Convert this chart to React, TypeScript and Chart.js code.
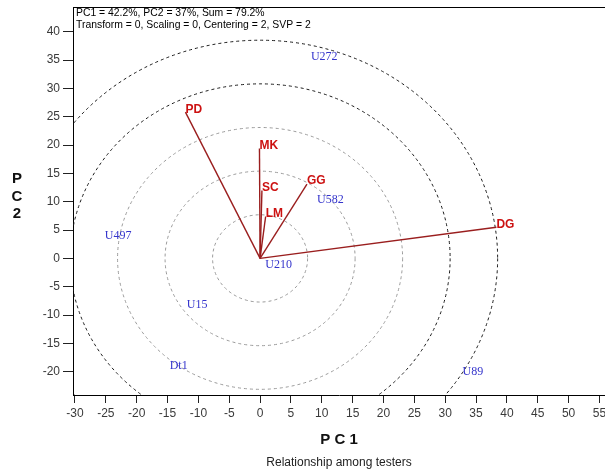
import React, { useEffect, useRef } from 'react';
import { Chart, registerables } from 'chart.js';

Chart.register(...registerables);

// Axis ticks and visible ranges (PC1 horizontal, PC2 vertical)
const xTicks = [-30, -25, -20, -15, -10, -5, 0, 5, 10, 15, 20, 25, 30, 35, 40, 45, 50, 55];
const yTicks = [-20, -15, -10, -5, 0, 5, 10, 15, 20, 25, 30, 35, 40];
const xMin = -30.32;
const xMax = 55.9;
const yMin = -24.1;
const yMax = 44.36;

// Environment vectors (testers drawn as arrows from the origin)
const envNames = ['PD', 'MK', 'SC', 'LM', 'GG', 'DG'];
const envPC1 = [-12.1, -0.1, 0.3, 0.9, 7.6, 38.3];
const envPC2 = [25.8, 19.4, 12.0, 7.4, 13.1, 5.5];

// Entry scores
const entryNames = ['U272', 'U582', 'U497', 'U210', 'U15', 'Dt1', 'U89'];
const entryPC1 = [10.4, 11.4, -23.0, 3.0, -10.2, -13.2, 34.5];
const entryPC2 = [35.6, 10.4, 3.9, -1.2, -8.2, -19.0, -20.1];

// Concentric reference rings around the origin
const ringRadii = [7.7, 15.4, 23.1, 30.8, 38.5];
const ringDark = [false, false, false, true, true];

const headerLines = [
  'PC1 = 42.2%, PC2 = 37%, Sum = 79.2%',
  'Transform = 0, Scaling = 0, Centering = 2, SVP = 2',
];
const xTitle = 'P C 1';
const yTitleLetters = ['P', 'C', '2'];
const footerTitle = 'Relationship among testers';

const SANS = '"Liberation Sans", Arial, sans-serif';
const SERIF = '"Liberation Serif", "Times New Roman", serif';
const VECTOR_COLOR = '#9a1e1e';
const ENV_LABEL_COLOR = '#cc1111';
const ENTRY_LABEL_COLOR = '#3434cc';

const biplotPlugin = {
  id: 'biplotDecor',
  beforeDatasetsDraw(chart: any) {
    const { ctx, chartArea, scales } = chart;
    const xs = scales.x;
    const ys = scales.y;
    const cx = xs.getPixelForValue(0);
    const cy = ys.getPixelForValue(0);
    ctx.save();
    ctx.beginPath();
    ctx.rect(chartArea.left, chartArea.top, chartArea.right - chartArea.left, chartArea.bottom - chartArea.top);
    ctx.clip();
    ringRadii.forEach((r, i) => {
      const rx = xs.getPixelForValue(r) - cx;
      const ry = cy - ys.getPixelForValue(r);
      ctx.beginPath();
      ctx.setLineDash([3, 3]);
      ctx.lineWidth = 1;
      ctx.strokeStyle = ringDark[i] ? '#1a1a1a' : '#9a9a9a';
      ctx.ellipse(cx, cy, rx, ry, 0, 0, Math.PI * 2);
      ctx.stroke();
    });
    ctx.restore();
  },
  afterDatasetsDraw(chart: any) {
    const { ctx, scales } = chart;
    const xs = scales.x;
    const ys = scales.y;
    ctx.save();
    // environment labels at the arrow tips
    ctx.font = `bold 12px ${SANS}`;
    ctx.fillStyle = ENV_LABEL_COLOR;
    ctx.textAlign = 'left';
    ctx.textBaseline = 'middle';
    envNames.forEach((name, i) => {
      const px = xs.getPixelForValue(envPC1[i]);
      const py = ys.getPixelForValue(envPC2[i]);
      ctx.fillText(name, px, py - 3);
    });
    // entry labels centred on their scores
    ctx.font = `12px ${SERIF}`;
    ctx.fillStyle = ENTRY_LABEL_COLOR;
    ctx.textAlign = 'center';
    entryNames.forEach((name, i) => {
      const px = xs.getPixelForValue(entryPC1[i]);
      const py = ys.getPixelForValue(entryPC2[i]);
      ctx.fillText(name, px, py);
    });
    ctx.restore();
  },
  afterDraw(chart: any) {
    const { ctx, chartArea } = chart;
    ctx.save();
    // top frame line above the plot
    ctx.strokeStyle = '#000';
    ctx.lineWidth = 1;
    ctx.beginPath();
    ctx.moveTo(chartArea.left, chartArea.top + 0.5);
    ctx.lineTo(chartArea.right, chartArea.top + 0.5);
    ctx.stroke();
    // header
    ctx.fillStyle = '#000';
    ctx.font = `10.4px ${SANS}`;
    ctx.textAlign = 'left';
    ctx.textBaseline = 'middle';
    headerLines.forEach((line, i) => {
      ctx.fillText(line, chartArea.left + 3, chartArea.top + 6.5 + i * 12);
    });
    // axis titles
    const midX = (chartArea.left + chartArea.right) / 2;
    ctx.font = `bold 15px ${SANS}`;
    ctx.fillStyle = '#111';
    ctx.textAlign = 'center';
    ctx.fillText(xTitle, midX, chartArea.bottom + 45);
    yTitleLetters.forEach((ch, i) => {
      ctx.fillText(ch, 17, 179 + i * 17.5);
    });
    ctx.font = `12px ${SANS}`;
    ctx.fillStyle = '#222';
    ctx.fillText(footerTitle, midX, chartArea.bottom + 68);
    ctx.restore();
  },
};

export default function App() {
  const canvasRef = useRef<HTMLCanvasElement>(null);

  useEffect(() => {
    const canvas = canvasRef.current;
    if (!canvas) return;

    const vectorSets = envNames.map((name, i) => ({
      label: name,
      data: [
        { x: 0, y: 0 },
        { x: envPC1[i], y: envPC2[i] },
      ],
      showLine: true,
      borderColor: VECTOR_COLOR,
      borderWidth: 1.4,
      pointRadius: 0,
      pointHoverRadius: 0,
    }));

    const entrySet = {
      label: 'entries',
      data: entryNames.map((_, i) => ({ x: entryPC1[i], y: entryPC2[i] })),
      showLine: false,
      pointRadius: 0,
      pointHoverRadius: 0,
    };

    const chart = new Chart(canvas, {
      type: 'scatter',
      data: { datasets: [...vectorSets, entrySet] as any },
      options: {
        responsive: false,
        animation: false,
        devicePixelRatio: 1,
        layout: { padding: { top: 7, left: 0, right: 0, bottom: 0 } },
        plugins: {
          legend: { display: false },
          tooltip: { enabled: false },
        },
        scales: {
          x: {
            type: 'linear',
            min: xMin,
            max: xMax,
            afterBuildTicks: (s: any) => {
              s.ticks = xTicks.map((v) => ({ value: v }));
            },
            afterFit: (s: any) => {
              s.height = 78;
              s.paddingLeft = 0;
              s.paddingRight = 0;
            },
            grid: { drawOnChartArea: false, drawTicks: true, tickLength: 8, color: '#222', lineWidth: 1 },
            border: { display: true, color: '#000', width: 1 },
            ticks: {
              font: { family: SANS, size: 12 },
              color: '#3a3a3a',
              padding: 3,
              maxRotation: 0,
              autoSkip: false,
              includeBounds: false,
            },
          },
          y: {
            type: 'linear',
            min: yMin,
            max: yMax,
            afterBuildTicks: (s: any) => {
              s.ticks = yTicks.map((v) => ({ value: v }));
            },
            afterFit: (s: any) => {
              s.width = 73;
              s.paddingTop = 0;
              s.paddingBottom = 0;
            },
            grid: { drawOnChartArea: false, drawTicks: true, tickLength: 10, color: '#222', lineWidth: 1 },
            border: { display: true, color: '#000', width: 1 },
            ticks: {
              font: { family: SANS, size: 12 },
              color: '#3a3a3a',
              padding: 3,
              autoSkip: false,
              includeBounds: false,
            },
          },
        },
      },
      plugins: [biplotPlugin],
    } as any);

    return () => chart.destroy();
  }, []);

  return (
    <div style={{ position: 'fixed', left: 0, top: 0, width: 605, height: 473, background: '#fff' }}>
      <canvas ref={canvasRef} width={605} height={473} style={{ display: 'block' }} />
    </div>
  );
}
